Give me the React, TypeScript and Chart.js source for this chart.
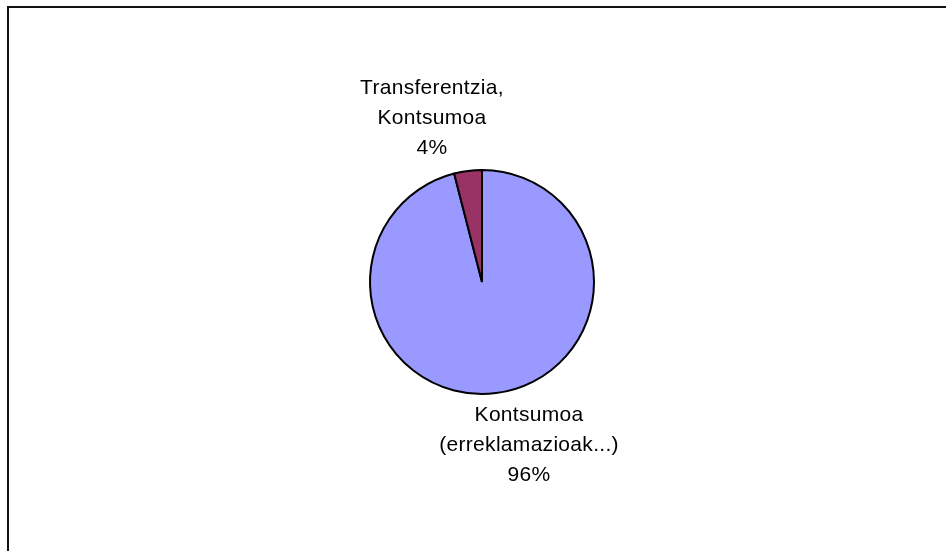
import React, { useEffect, useRef } from "react";
import { Chart, registerables } from "chart.js";

Chart.register(...registerables);

const categories = ["Kontsumoa (erreklamazioak...)", "Transferentzia, Kontsumoa"];
const labelLines = [
  ["Kontsumoa", "(erreklamazioak...)", "96%"],
  ["Transferentzia,", "Kontsumoa", "4%"],
];
const values = [96, 4];
const colors = ["#9999FF", "#993366"];

const labelPlugin = {
  id: "excelLabels",
  afterDatasetsDraw(chart: any) {
    const ctx = chart.ctx;
    const meta = chart.getDatasetMeta(0);
    const lineH = 30;
    ctx.save();
    ctx.font = '21px "Liberation Sans", Arial, sans-serif';
    try { (ctx as any).letterSpacing = "0.3px"; } catch (e) {}
    ctx.fillStyle = "#000";
    ctx.textAlign = "center";
    ctx.textBaseline = "middle";
    meta.data.forEach((arc: any, i: number) => {
      const p = arc.getProps(["x", "y", "startAngle", "endAngle", "outerRadius"], true);
      const mid = (p.startAngle + p.endAngle) / 2;
      const ex = p.x + Math.cos(mid) * p.outerRadius;
      const ey = p.y + Math.sin(mid) * p.outerRadius;
      const lines = labelLines[i];
      const below = Math.sin(mid) > 0;
      if (below) {
        const cx = ex + 33;
        const top = ey + 22;
        lines.forEach((t, k) => ctx.fillText(t, cx, top + k * lineH));
      } else {
        const cx = ex - 36;
        const bottom = ey - 23;
        lines.forEach((t, k) => ctx.fillText(t, cx, bottom - (lines.length - 1 - k) * lineH));
      }
    });
    ctx.restore();
  },
};

export default function App() {
  const ref = useRef<HTMLCanvasElement>(null);
  useEffect(() => {
    if (!ref.current) return;
    const chart = new Chart(ref.current, {
      type: "pie",
      data: {
        labels: categories,
        datasets: [
          {
            data: values,
            backgroundColor: colors,
            borderColor: "#000",
            borderWidth: 2,
            radius: 112,
          } as any,
        ],
      },
      options: {
        responsive: false,
        animation: false,
        layout: { padding: { left: 18, right: 0, top: 13, bottom: 0 } },
        plugins: { legend: { display: false }, tooltip: { enabled: false } },
      },
      plugins: [labelPlugin],
    });
    return () => chart.destroy();
  }, []);
  return (
    <div style={{ position: "absolute", left: 0, top: 0, width: 946, height: 551, overflow: "hidden", background: "#fff" }}>
      <canvas ref={ref} width={946} height={551} style={{ position: "absolute", left: 0, top: 0 }} />
      <div
        style={{
          position: "absolute",
          left: 7,
          top: 6,
          width: 1000,
          height: 1000,
          borderTop: "2px solid #111",
          borderLeft: "2px solid #111",
          pointerEvents: "none",
        }}
      />
    </div>
  );
}
